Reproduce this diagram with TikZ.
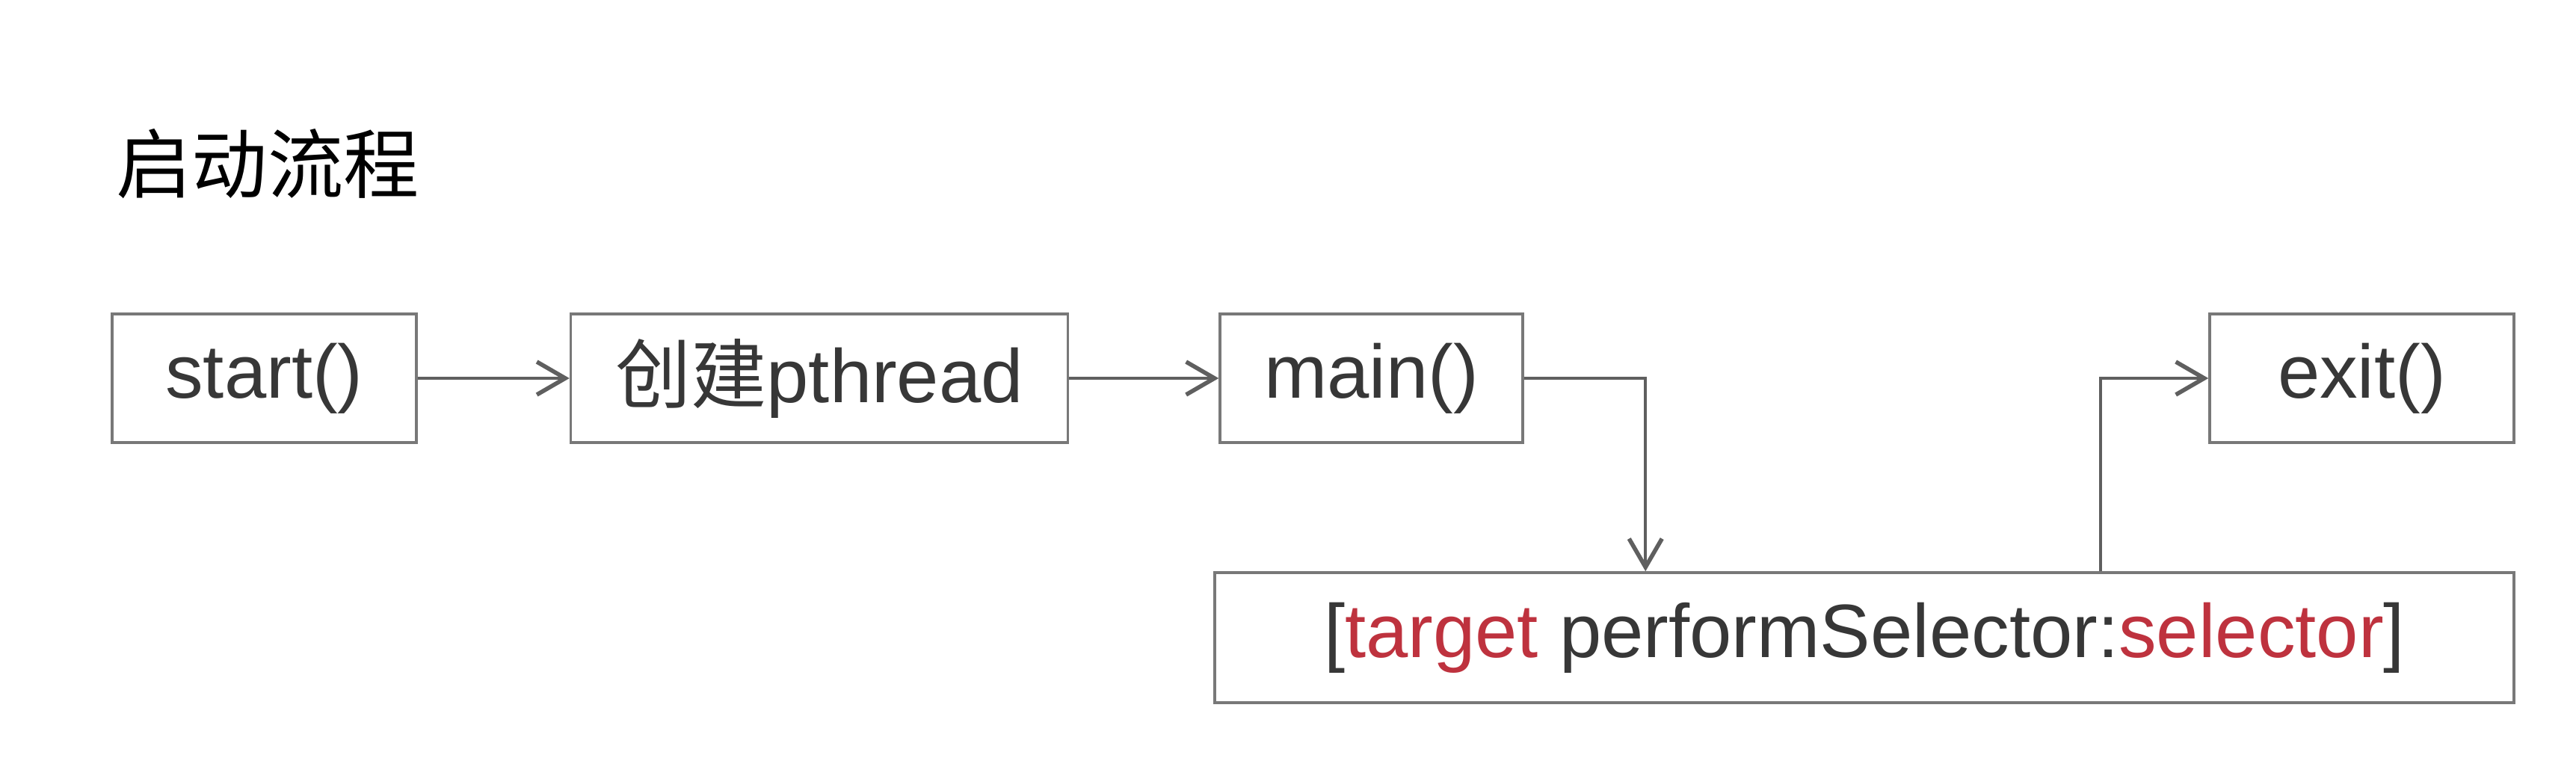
\documentclass[tikz,border=0pt]{standalone}
\usepackage{fontspec}
\setmainfont{Liberation Sans}
\newfontfamily\cjk{Noto Sans CJK SC}
\usetikzlibrary{arrows.meta,positioning}
\definecolor{boxline}{RGB}{120,120,120}
\definecolor{flowline}{RGB}{95,95,95}
\definecolor{flowtext}{RGB}{55,55,55}
\definecolor{selred}{RGB}{190,50,62}

\begin{document}
\begin{tikzpicture}
    [node distance=2.03cm,
    every node/.style = {font=\fontsize{28.8}{34}\selectfont},
    stepbox/.style = {shape=rectangle, draw=boxline, line width=1pt,
        text=flowtext, minimum height=1.72cm, inner sep=0pt},
    flow/.style = {draw=flowline, line width=1.2pt,
        -{Straight Barb[length=0.38cm,width=0.44cm,line width=1.6pt]}}]

    \useasboundingbox (0,0) rectangle (34.46,-10.14);

    \node[anchor=west, inner sep=0pt] (title) at (1.55,-2.19) {\cjk 启动流程};

    \node[stepbox, minimum width=4.07cm] (start) at (3.535,-5.06) {start()};
    \node[stepbox, minimum width=6.65cm, right=of start] (pthread) {{\cjk 创建}pthread};
    \node[stepbox, minimum width=4.05cm, right=2.0cm of pthread] (main) {main()};
    \node[stepbox, minimum width=4.07cm] (exit) at (31.595,-5.06) {exit()};
    \node[stepbox, minimum width=17.38cm, minimum height=1.74cm] (perform) at (24.94,-8.53)
        {[\textcolor{selred}{target} performSelector:\textcolor{selred}{selector}]};

    \draw[flow] (start) -- (pthread);
    \draw[flow] (pthread) -- (main);
    \draw[flow] (main.east) -| ([xshift=5.78cm]perform.north west);
    \draw[flow] ([xshift=11.87cm]perform.north west) |- (exit.west);
\end{tikzpicture}
\end{document}
